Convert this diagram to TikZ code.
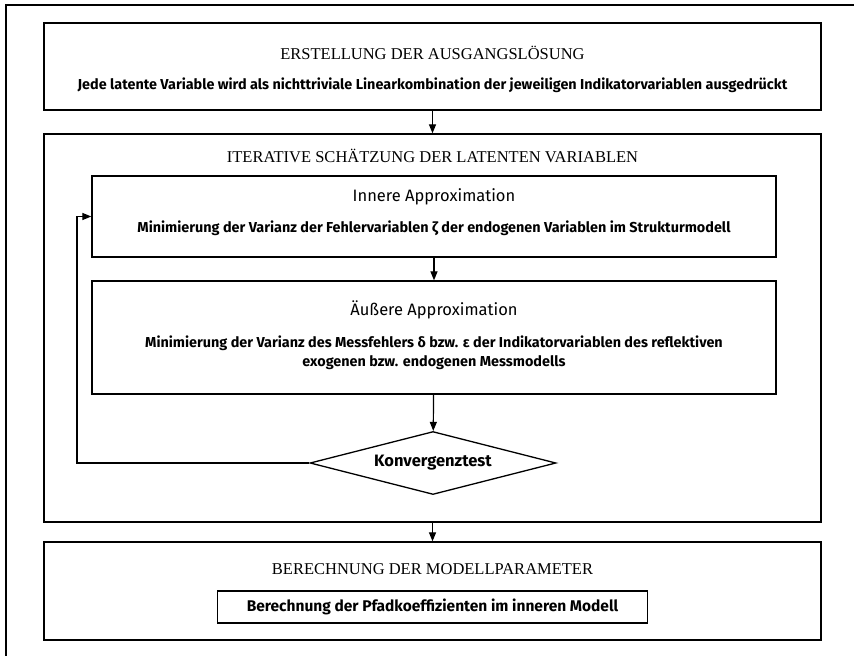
\documentclass[tikz,border=0pt]{standalone}
\usepackage{fontspec}
\setmainfont{Liberation Serif}
\newfontfamily\labelfont{Fira Sans}
\usetikzlibrary{positioning,shapes.geometric,arrows.meta}

\begin{document}
\begin{tikzpicture}[x=1pt,y=-1pt,
  frame/.style={draw, line width=1.3pt},
  box/.style={frame, inner sep=0pt},
  headline/.style={inner sep=0pt, font=\fontsize{16.5}{18}\selectfont},
  stepname/.style={inner sep=0pt, font=\labelfont\fontsize{16.5}{18}\selectfont},
  steptext/.style={inner sep=0pt, align=center, font=\labelfont\bfseries\fontsize{14.4}{19}\selectfont},
  flow/.style={line width=1.2pt, -{Triangle[length=9pt,width=7pt]}}]
\useasboundingbox (0,0) rectangle (854,656);
% outer frame, cut by the page
\draw[frame] (854,5) -- (6,5) -- (6,656);

% start solution
\node[box, minimum width=777pt, minimum height=87pt] (start) at (432.5,66.5) {};
\node[headline] (startname) at (432.5,53) {ERSTELLUNG DER AUSGANGSLÖSUNG};
\node[steptext] (starttext) at (432.5,85) {Jede latente Variable wird als nichttriviale Linearkombination der jeweiligen Indikatorvariablen ausgedrückt};

% iteration
\node[box, minimum width=777pt, minimum height=388pt] (iter) at (432.5,328) {};
\node[headline] (itername) at (432.5,156) {ITERATIVE SCHÄTZUNG DER LATENTEN VARIABLEN};

\node[box, minimum width=684pt, minimum height=81pt] (inner) at (434,216.5) {};
\node[stepname] (innername) at (434,197) {Innere Approximation};
\node[steptext] (innertext) at (434,228) {Minimierung der Varianz der Fehlervariablen ζ der endogenen Variablen im Strukturmodell};

\node[box, minimum width=684pt, minimum height=113pt] (outer) at (434,337.5) {};
\node[stepname] (outername) at (434,310) {Äußere Approximation};
\node[steptext] (outertext) at (434,353) {Minimierung der Varianz des Messfehlers δ bzw. ε der Indikatorvariablen des reflektiven\\exogenen bzw. endogenen Messmodells};

\node[box, diamond, aspect=3.9, minimum width=246pt, minimum height=63pt,
  font=\labelfont\bfseries\fontsize{16.5}{18}\selectfont, fill=white] (test) at (433,463) {Konvergenztest};
\coordinate (loop) at (77,463);

% model parameters
\node[box, minimum width=777pt, minimum height=98pt] (param) at (432.5,591) {};
\node[headline] (paramname) at (432.5,569) {BERECHNUNG DER MODELLPARAMETER};
\node[box, minimum width=430pt, minimum height=32pt,
  font=\labelfont\bfseries\fontsize{15.5}{18}\selectfont] (paramtext) at (432.5,607) {Berechnung der Pfadkoeffizienten im inneren Modell};

\draw[flow] (start) -- (iter);
\draw[flow] (inner) -- (outer);
\draw[flow] (outer) -- (test);
\draw[flow] (test.west) -- (loop) |- (inner.west);
\draw[flow] (iter) -- (param);
\end{tikzpicture}
\end{document}
